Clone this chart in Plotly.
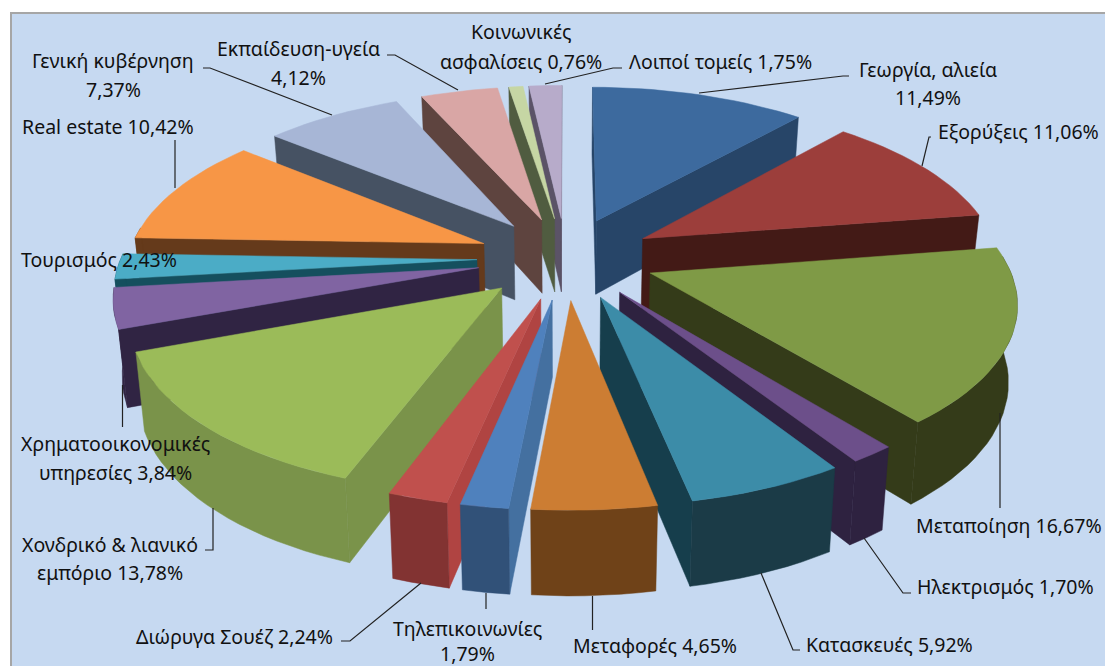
import math
import plotly.graph_objects as go

categories = ["Γεωργία, αλιεία", "Εξορύξεις", "Μεταποίηση", "Ηλεκτρισμός", "Κατασκευές", "Μεταφορές",
              "Τηλεπικοινωνίες", "Διώρυγα Σουέζ", "Χονδρικό & λιανικό\nεμπόριο", "Χρηματοοικονομικές\nυπηρεσίες",
              "Τουρισμός", "Real estate", "Γενική κυβέρνηση", "Εκπαίδευση-υγεία", "Κοινωνικές\nασφαλίσεις", "Λοιποί τομείς"]
values = [11.49, 11.06, 16.67, 1.70, 5.92, 4.65, 1.79, 2.24, 13.78, 3.84, 2.43, 10.42, 7.37, 4.12, 0.76, 1.75]
value_on_new_line = [True, False, False, False, False, False, True, False, False, False, False, False, True, True, False, False]

top_colors = ["#3D6A9E", "#9C3E3B", "#7F9A46", "#6C4F8A", "#3C8CA8", "#CC7D33", "#4F81BD", "#C0504D",
              "#9BBB59", "#8064A2", "#4BACC6", "#F79646", "#A7B6D6", "#D9A6A5", "#C6D6A4", "#B7ABCA"]
rim_colors = ["#274568", "#431A16", "#343B19", "#2E2240", "#1B3B47", "#6F4218", "#315178", "#823332",
              "#7A934A", "#302443", "#154F5E", "#653A1B", "#465263", "#5E443F", "#505C40", "#5B5367"]
wall_colors = ["#274568", "#431A16", "#343B19", "#2E2240", "#163E4C", "#6F4218", "#4470A0", "#B04442",
               "#7A934A", "#302443", "#154F5E", "#653A1B", "#465263", "#5E443F", "#505C40", "#5B5367"]

# label line centres (x, y), one pair for every text line
label_pos = [[(928, 69), (928, 97)], [(1018, 131)], [(1009, 525)], [(1005, 586)], [(889, 644)], [(655, 645)],
             [(467, 628), (467, 653)], [(234, 636)], [(110, 544), (110, 572)], [(115, 443), (115, 472)],
             [(99, 259)], [(108, 126)], [(113, 60), (113, 89)], [(298, 48), (298, 77)], [(521, 31), (521, 61)],
             [(720, 61)]]
leaders = [[(849, 76), (843, 76), (699, 93)], [(931, 137), (929, 137), (922, 166)], [(1000, 413), (1000, 508)],
           [(864, 538), (903, 593), (911, 593)], [(761, 573), (793, 650), (800, 650)], [(592.5, 596), (592.5, 630)],
           [(486, 593), (486, 609)], [(421, 583), (350, 641), (341, 641)], [(213, 508), (213, 550), (205, 550)],
           [(122.5, 385), (122.5, 427)], [], [(175, 140), (175, 188)], [(332, 115), (210, 68), (203, 68)],
           [(458, 90), (395, 55), (387, 55)], [], [(545, 84), (613, 68), (622, 68)]]

CX, CY = 566, 258
RX, RY, P, H, PZ, EXPLODE, TAPER = 356, 164, 0.15, 75, 0.10, 0.25, 0.02


def project(x, y, z=0.0):
    s = 1 / (1 + P * y)
    return CX + RX * x * s * (1 - TAPER * z), CY - RY * y * s + H * z / (1 + PZ * y)


def pt(theta, r, mid):
    return (EXPLODE * math.sin(mid) + r * math.sin(theta), EXPLODE * math.cos(mid) + r * math.cos(theta))


def poly(points, color, name, hover=False):
    xs = [p[0] for p in points] + [points[0][0]]
    ys = [p[1] for p in points] + [points[0][1]]
    return go.Scatter(x=xs, y=ys, mode="lines", fill="toself", fillcolor=color, line=dict(color=color, width=0.5),
                      name=name, showlegend=False, hoverinfo="name" if hover else "skip")


total = sum(values)
slices, cum = [], 0.0
for i, v in enumerate(values):
    a0 = cum / total * 2 * math.pi
    cum += v
    a1 = cum / total * 2 * math.pi
    slices.append((i, a0, a1, (a0 + a1) / 2))

viewer = (0.0, -1 / P)
traces = []
for i, a0, a1, mid in sorted(slices, key=lambda s: -math.cos(s[3])):
    name = categories[i].replace("\n", " ")
    apex = pt(0, 0, mid)
    for ang, normal in ((a0, (-math.cos(a0), math.sin(a0))), (a1, (math.cos(a1), -math.sin(a1)))):
        if normal[0] * (viewer[0] - apex[0]) + normal[1] * (viewer[1] - apex[1]) > 0:
            o = pt(ang, 1, mid)
            traces.append(poly([project(*apex), project(*o), project(*o, 1), project(*apex, 1)], wall_colors[i], name))
    lo, hi = max(a0, math.pi / 2 - 0.1), min(a1, 3 * math.pi / 2 + 0.1)
    if hi > lo:
        n = max(2, int((hi - lo) / 0.04))
        rim = [pt(lo + (hi - lo) * k / n, 1, mid) for k in range(n + 1)]
        traces.append(poly([project(*q) for q in rim] + [project(*q, 1) for q in reversed(rim)], rim_colors[i], name))
    n = max(2, int((a1 - a0) / 0.04))
    arc = [pt(a0 + (a1 - a0) * k / n, 1, mid) for k in range(n + 1)]
    traces.append(poly([project(*apex)] + [project(*q) for q in arc], top_colors[i], f"{name} {values[i]:.2f}%", True))

annotations = []
shapes = [dict(type="rect", x0=11, y0=13, x1=1112, y1=672, fillcolor="#C6D9F1", line=dict(color="#A6A6A6", width=2), layer="below")]
for i, cat in enumerate(categories):
    pct = f"{values[i]:.2f}".replace(".", ",") + "%"
    text = cat + ("\n" if value_on_new_line[i] else " ") + pct
    for line, (x, y) in zip(text.split("\n"), label_pos[i]):
        annotations.append(dict(x=x, y=y, text=line, showarrow=False, xanchor="center", yanchor="middle",
                                font=dict(family="Noto Sans", size=19.5, color="#111111")))
    if leaders[i]:
        d = "M " + " L ".join(f"{x} {y}" for x, y in leaders[i])
        shapes.append(dict(type="path", path=d, line=dict(color="#222222", width=1.2), layer="above"))

fig = go.Figure(traces)
fig.update_layout(width=1105, height=666, margin=dict(l=0, r=0, t=0, b=0), paper_bgcolor="white", plot_bgcolor="rgba(0,0,0,0)",
                  xaxis=dict(range=[0, 1105], visible=False, fixedrange=True),
                  yaxis=dict(range=[666, 0], visible=False, fixedrange=True),
                  annotations=annotations, shapes=shapes, showlegend=False)
fig.write_html("out.html", config={"displayModeBar": False},
               post_script="document.body.style.margin='0';document.body.style.overflow='hidden';")
